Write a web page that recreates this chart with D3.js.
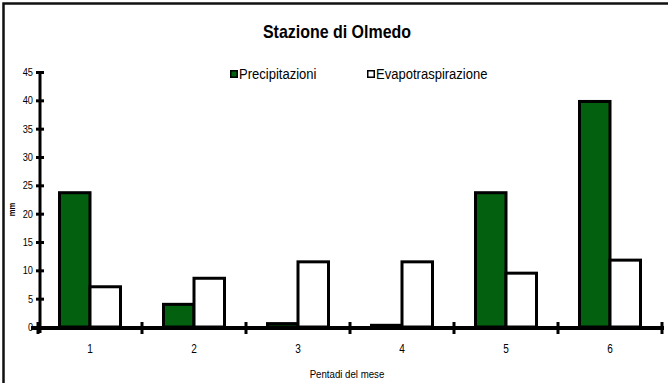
<!DOCTYPE html>
<html>
<head>
<meta charset="utf-8">
<script src="https://cdn.jsdelivr.net/npm/d3@7"></script>
<style>
  html, body { margin: 0; padding: 0; background: #fff; }
  svg { display: block; }
  text { font-family: "Liberation Sans Narrow", "Arial Narrow", "Liberation Sans", Arial, sans-serif; fill: #000; }
</style>
</head>
<body>
<svg id="chart" width="668" height="383"></svg>
<script>
// Pentadi del mese (5-day periods) and the two measured series, in mm
const pentads = ["1", "2", "3", "4", "5", "6"];
const precipitazioni = [23.7, 4.0, 0.6, 0.3, 23.7, 39.8];
const evapotraspirazione = [7.1, 8.6, 11.5, 11.5, 9.5, 11.8];
const seriesNames = ["Precipitazioni", "Evapotraspirazione"];
const seriesColors = ["#03600f", "#ffffff"];
const yTicks = [0, 5, 10, 15, 20, 25, 30, 35, 40, 45];

const svg = d3.select("#chart");
const W = 668, H = 383;

// outer frame
svg.append("rect")
  .attr("x", 3.5).attr("y", 3.5)
  .attr("width", W + 10).attr("height", H + 10)
  .attr("fill", "none").attr("stroke", "#111").attr("stroke-width", 2.5);

// title
svg.append("text")
  .attr("x", 337).attr("y", 38)
  .attr("text-anchor", "middle")
  .attr("font-size", 19).attr("font-weight", "bold")
  .text("Stazione di Olmedo");

// scales
const x = d3.scaleBand().domain(pentads).range([38, 662]).padding(0);
const xs = d3.scaleBand().domain(seriesNames).range([0, x.bandwidth()]).paddingOuter(0.705).paddingInner(0);
const y = d3.scaleLinear().domain([0, 45]).range([327, 72]);

const rows = pentads.map((p, i) => ({ p, values: [precipitazioni[i], evapotraspirazione[i]] }));

// bars
const groups = svg.append("g").selectAll("g").data(rows).join("g")
  .attr("transform", d => `translate(${x(d.p)},0)`);
groups.selectAll("rect")
  .data(d => d.values.map((v, j) => ({ name: seriesNames[j], v, j })))
  .join("rect")
  .attr("x", d => xs(d.name))
  .attr("width", xs.bandwidth())
  .attr("y", d => y(d.v))
  .attr("height", d => y(0) - y(d.v))
  .attr("fill", d => seriesColors[d.j])
  .attr("stroke", "#000").attr("stroke-width", 3);

// y axis
const yAxis = svg.append("g")
  .attr("transform", "translate(40,0)")
  .call(d3.axisLeft(y).tickValues(yTicks).tickSize(4).tickPadding(3));
yAxis.select(".domain").attr("stroke", "#000").attr("stroke-width", 3)
  .attr("d", `M0,${y(45)}V${y(0) + 6}`);
yAxis.selectAll(".tick line").attr("x1", -4).attr("x2", 4)
  .attr("stroke", "#000").attr("stroke-width", 3);
yAxis.selectAll(".tick text").attr("font-size", 11);

// x axis
const xAxis = svg.append("g")
  .attr("transform", `translate(0,${y(0) + 1})`)
  .call(d3.axisBottom(x).tickSize(0).tickPadding(16));
xAxis.select(".domain").attr("stroke", "#000").attr("stroke-width", 4)
  .attr("d", "M31,0H664");
xAxis.selectAll(".tick text").attr("font-size", 12);
// boundary ticks between pentads
const bounds = pentads.map(p => x(p)).concat([x(pentads[pentads.length - 1]) + x.bandwidth()]);
xAxis.selectAll("line.bound").data(bounds).join("line")
  .attr("class", "bound")
  .attr("x1", d => d).attr("x2", d => d)
  .attr("y1", -6).attr("y2", 6)
  .attr("stroke", "#000").attr("stroke-width", 3);

// axis titles
svg.append("text")
  .attr("transform", `translate(15,${y(22.5) + 10}) rotate(-90)`)
  .attr("text-anchor", "middle")
  .attr("font-size", 9).attr("font-weight", "bold")
  .text("mm");
svg.append("text")
  .attr("x", 347).attr("y", 378)
  .attr("text-anchor", "middle")
  .attr("font-size", 11.5)
  .text("Pentadi del mese");

// legend
const legendX = [230, 367];
const legend = svg.append("g").selectAll("g").data(seriesNames).join("g")
  .attr("transform", (d, i) => `translate(${legendX[i]},70)`);
legend.append("rect")
  .attr("x", 0.75).attr("y", 0.75).attr("width", 6.5).attr("height", 6.5)
  .attr("fill", (d, i) => seriesColors[i])
  .attr("stroke", "#000").attr("stroke-width", 1.5);
legend.append("text")
  .attr("x", 9).attr("y", 9)
  .attr("font-size", 15.5)
  .text(d => d);

// condense all lettering to a narrow face
svg.selectAll("text").each(function () {
  const len = this.getComputedTextLength();
  if (len > 0) {
    d3.select(this)
      .attr("textLength", (len * 0.84).toFixed(1))
      .attr("lengthAdjust", "spacingAndGlyphs");
  }
});
</script>
</body>
</html>
